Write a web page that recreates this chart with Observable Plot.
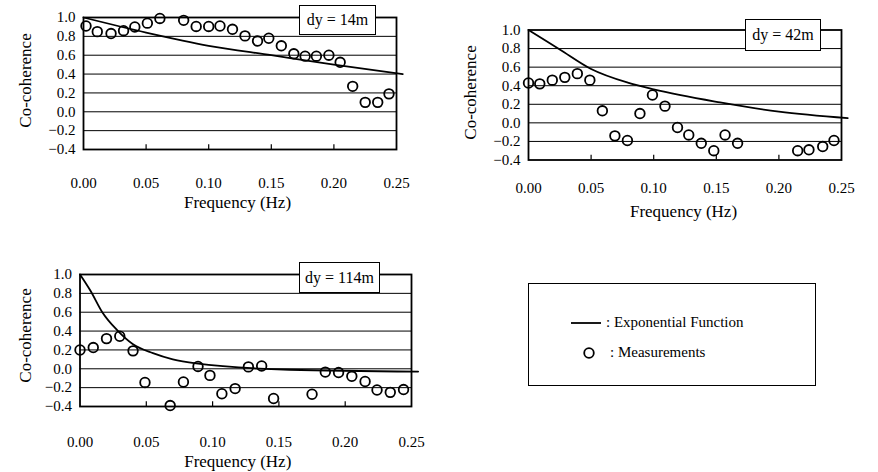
<!DOCTYPE html>
<html><head><meta charset="utf-8">
<script src="https://cdn.jsdelivr.net/npm/d3@7"></script>
<script src="https://cdn.jsdelivr.net/npm/@observablehq/plot@0.6"></script>
<style>
body{margin:0;background:#fff;}
#wrap{position:relative;width:878px;height:472px;background:#fff;font-family:"Liberation Serif","Times New Roman",serif;color:#000;overflow:hidden;}
.pan{position:absolute;}
.pan svg{overflow:visible;}
.dybox{position:absolute;border:1.5px solid #000;background:#fff;box-sizing:border-box;display:flex;align-items:center;justify-content:center;font-size:16px;white-space:nowrap;}
#legend{position:absolute;left:528px;top:283px;width:288px;height:103px;border:1.5px solid #000;box-sizing:border-box;background:#fff;}
#legend .lt{position:absolute;font-size:15px;line-height:1;white-space:nowrap;}
#legend svg{position:absolute;left:0;top:0;}
</style></head><body><div id="wrap"></div>
<script>
// shared axis values
const xTicks = [0, 0.05, 0.10, 0.15, 0.20, 0.25];
const yTicks = [-0.4, -0.2, 0.0, 0.2, 0.4, 0.6, 0.8, 1.0];
const gridY = [-0.2, 0.0, 0.2, 0.4, 0.6, 0.8];
const innerTicks = [0.05, 0.10, 0.15, 0.20];
const xLabel = "Frequency (Hz)";
const yLabel = "Co-coherence";
const legendLine = ": Exponential Function";
const legendDot = ": Measurements";
const spacings = ["dy = 14m", "dy = 42m", "dy = 114m"];

// dy = 14m
const freq1 = [0.002, 0.011, 0.022, 0.032, 0.041, 0.051, 0.061, 0.080, 0.090, 0.100, 0.109, 0.119, 0.129, 0.139, 0.148, 0.158, 0.168, 0.177, 0.186, 0.196, 0.205, 0.215, 0.225, 0.235, 0.244];
const coh1  = [0.91, 0.85, 0.83, 0.86, 0.90, 0.94, 0.99, 0.97, 0.905, 0.905, 0.91, 0.875, 0.805, 0.75, 0.78, 0.70, 0.615, 0.59, 0.59, 0.60, 0.525, 0.27, 0.10, 0.10, 0.19];
const expF1 = [0, 0.05, 0.10, 0.15, 0.20, 0.255];
const expV1 = [1.0, 0.84, 0.70, 0.60, 0.50, 0.40];

// dy = 42m
const freq2 = [0.000, 0.009, 0.019, 0.029, 0.039, 0.049, 0.059, 0.069, 0.079, 0.089, 0.099, 0.109, 0.119, 0.128, 0.138, 0.148, 0.157, 0.167, 0.215, 0.224, 0.235, 0.244];
const coh2  = [0.43, 0.42, 0.46, 0.49, 0.53, 0.46, 0.13, -0.14, -0.19, 0.10, 0.30, 0.18, -0.05, -0.13, -0.22, -0.30, -0.13, -0.22, -0.30, -0.29, -0.255, -0.19];
const expF2 = [0, 0.025, 0.05, 0.08, 0.10, 0.153, 0.20, 0.255];
const expV2 = [1.0, 0.79, 0.58, 0.43, 0.36, 0.22, 0.12, 0.05];

// dy = 114m
const freq3 = [0.000, 0.010, 0.020, 0.030, 0.040, 0.049, 0.068, 0.078, 0.089, 0.098, 0.107, 0.117, 0.127, 0.137, 0.146, 0.175, 0.185, 0.195, 0.205, 0.215, 0.224, 0.234, 0.244];
const coh3  = [0.20, 0.225, 0.32, 0.345, 0.19, -0.145, -0.39, -0.14, 0.025, -0.07, -0.265, -0.21, 0.02, 0.03, -0.315, -0.27, -0.035, -0.04, -0.08, -0.135, -0.225, -0.25, -0.22];
const expF3 = [0, 0.0078, 0.0168, 0.028, 0.040, 0.055, 0.070, 0.0875, 0.158, 0.255];
const expV3 = [1.0, 0.83, 0.60, 0.41, 0.26, 0.166, 0.10, 0.057, -0.01, -0.03];

const wrap = document.getElementById("wrap");

function panel(o) {
  const pts = o.freq.map((f, i) => ({f, v: o.coh[i]}));
  const crv = o.expF.map((f, i) => ({f, v: o.expV[i]}));
  const svg = Plot.plot({
    width: o.width, height: o.height,
    marginLeft: o.ml, marginRight: o.mr, marginTop: o.mt, marginBottom: o.mb,
    x: {domain: [0, 0.25]},
    y: {domain: [-0.4, 1.0]},
    style: {fontFamily: "Liberation Serif, Times New Roman, serif", fontSize: "15px", background: "transparent", color: "#000", overflow: "visible"},
    marks: [
      Plot.ruleY(gridY, {stroke: "#000", strokeWidth: 1}),
      Plot.ruleX(innerTicks, {y1: -0.4, y2: -0.35, stroke: "#000", strokeWidth: 1.2}),
      Plot.frame({stroke: "#000", strokeWidth: 1.8}),
      Plot.line(crv, {x: "f", y: "v", curve: "monotone-x", stroke: "#000", strokeWidth: 1.8}),
      Plot.dot(pts, {x: "f", y: "v", r: 4.8, stroke: "#000", strokeWidth: 1.8, fill: "none"}),
      Plot.axisX({ticks: xTicks, tickFormat: d3.format(".2f"), tickSize: 0, tickPadding: o.xPad, label: null, fontSize: 15}),
      Plot.axisY({ticks: yTicks, tickFormat: d3.format(".1f"), tickSize: 0, tickPadding: 8, label: null, fontSize: 15}),
      Plot.text([xLabel], {frameAnchor: "bottom", dx: o.xdx, dy: o.xdy, text: d => d, fontSize: 17, textAnchor: "middle", lineAnchor: "middle"}),
      Plot.text([yLabel], {frameAnchor: "left", dx: o.ydx, dy: o.ydy, rotate: -90, text: d => d, fontSize: 17, textAnchor: "middle", lineAnchor: "middle"})
    ]
  });
  const div = document.createElement("div");
  div.className = "pan";
  div.style.left = o.left + "px";
  div.style.top = o.top + "px";
  div.appendChild(svg);
  wrap.appendChild(div);
  const box = document.createElement("div");
  box.className = "dybox";
  box.style.left = o.box[0] + "px";
  box.style.top = o.box[1] + "px";
  box.style.width = o.box[2] + "px";
  box.style.height = o.box[3] + "px";
  box.textContent = o.title;
  wrap.appendChild(box);
}

panel({left: 0, top: 0, width: 440, height: 215, ml: 83, mr: 44, mt: 17, mb: 66,
  freq: freq1, coh: coh1, expF: expF1, expV: expV1, xPad: 28, xdx: -2.5, xdy: 53, ydx: -58, ydy: -3,
  title: spacings[0], box: [299, 5, 77, 30]});
panel({left: 440, top: 0, width: 438, height: 230, ml: 88, mr: 37, mt: 29.5, mb: 70.5,
  freq: freq2, coh: coh2, expF: expF2, expV: expV2, xPad: 22, xdx: -1.5, xdy: 52, ydx: -58, ydy: -2.5,
  title: spacings[1], box: [745, 19, 76, 32]});
panel({left: 0, top: 250, width: 440, height: 222, ml: 79.5, mr: 29, mt: 24, mb: 66,
  freq: freq3, coh: coh3, expF: expF3, expV: expV3, xPad: 30, xdx: -8, xdy: 55, ydx: -54.5, ydy: -5,
  title: spacings[2], box: [299, 262, 81, 31]});

// legend
const lg = document.createElement("div");
lg.id = "legend";
lg.innerHTML = `<svg width="288" height="103">
  <line x1="42" x2="72" y1="39" y2="39" stroke="#000" stroke-width="1.8"></line>
  <circle cx="60" cy="69" r="4.8" fill="none" stroke="#000" stroke-width="1.8"></circle>
</svg>
<div class="lt" style="left:77px;top:31px">${legendLine}</div>
<div class="lt" style="left:81px;top:61px">${legendDot}</div>`;
wrap.appendChild(lg);
</script>
</body></html>
